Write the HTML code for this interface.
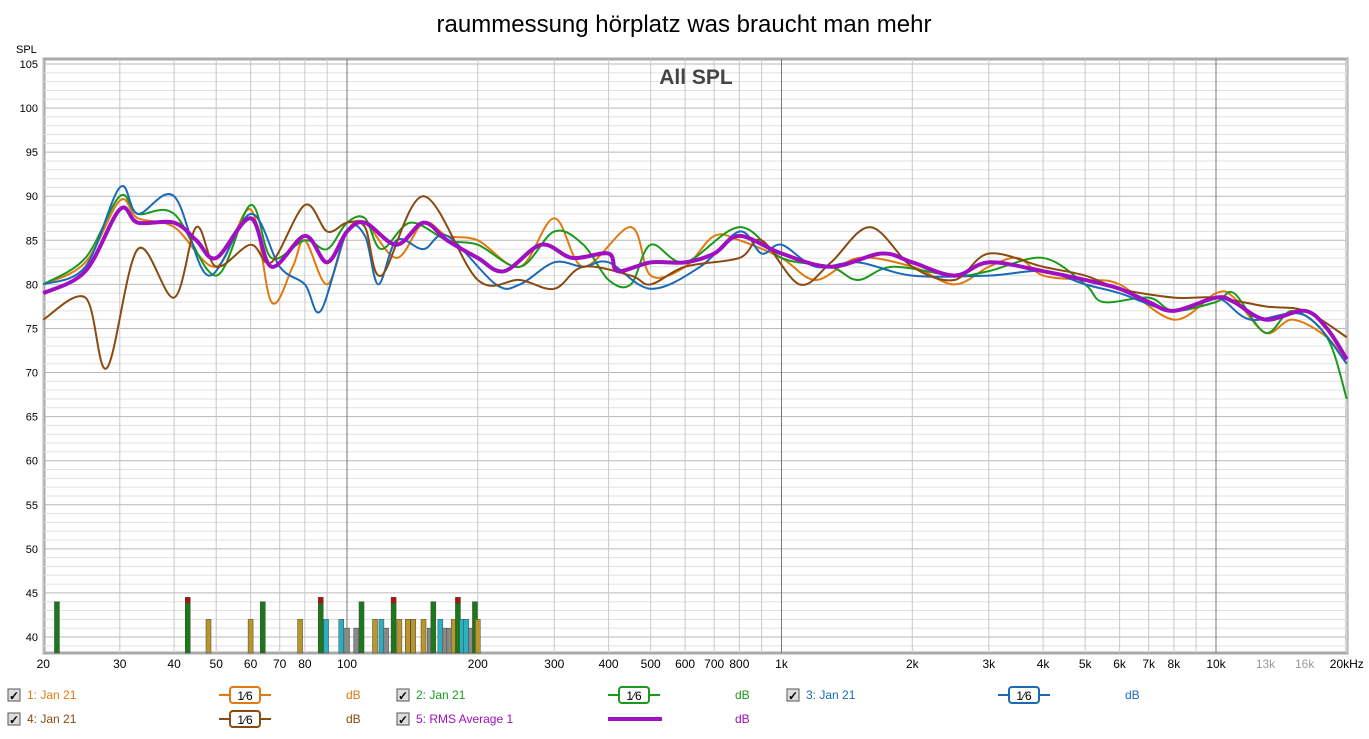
<!DOCTYPE html>
<html><head><meta charset="utf-8"><style>
body{margin:0;background:#fff;width:1369px;height:734px;overflow:hidden;font-family:"Liberation Sans",sans-serif}
</style></head><body>
<svg id="s" width="1369" height="734" xmlns="http://www.w3.org/2000/svg" font-family="Liberation Sans, sans-serif"></svg>
<script>
const s=document.getElementById('s');let h='';
const L=44,R=1347,T=59,B=653;
const X=f=>347+434.5*Math.log10(f/100);
const Y=d=>64+(105-d)*(573/65);
h+=`<text x="684" y="32" font-size="24" text-anchor="middle" fill="#000">raummessung hörplatz was braucht man mehr</text>`;
h+=`<text x="16" y="53" font-size="11">SPL</text>`;
h+=`<rect x="${L}" y="${T}" width="${R-L}" height="${B-T}" fill="#fff" stroke="#aaa" stroke-width="3"/>`;
for(let d=38;d<=105;d++){const y=Y(d);if(y<T||y>B)continue;h+=`<line x1="${L}" x2="${R}" y1="${y}" y2="${y}" stroke="${d%5?'#e0e0e0':'#b8b8b8'}"/>`;if(d%5==0)h+=`<text x="38" y="${y+4}" font-size="11" text-anchor="end">${d}</text>`;}
const fs=[];for(let dec=10;dec<=10000;dec*=10)for(let m=1;m<10;m++){const f=dec*m;if(f>=20&&f<=20000)fs.push(f);}
fs.forEach(f=>{const x=X(f);const maj=(f==100||f==1000||f==10000);h+=`<line x1="${x}" x2="${x}" y1="${T}" y2="${B}" stroke="${maj?'#777':(f>=10000?'#e4e4e4':'#c8c8c8')}"/>`;});
const ticks=[[20,'20'],[30,'30'],[40,'40'],[50,'50'],[60,'60'],[70,'70'],[80,'80'],[100,'100'],[200,'200'],[300,'300'],[400,'400'],[500,'500'],[600,'600'],[700,'700'],[800,'800'],[1000,'1k'],[2000,'2k'],[3000,'3k'],[4000,'4k'],[5000,'5k'],[6000,'6k'],[7000,'7k'],[8000,'8k'],[10000,'10k'],[13000,'13k'],[16000,'16k'],[20000,'20kHz']];
ticks.forEach(([f,t])=>{h+=`<text x="${X(f)}" y="668" font-size="12" text-anchor="middle" fill="${f==13000||f==16000?'#999':'#000'}">${t}</text>`;});
h+=`<text x="696" y="84" font-size="21" font-weight="bold" text-anchor="middle" fill="#444">All SPL</text>`;
const bars=[[21.5,44,'#1a7a1a'],[43,44.5,'#1a7a1a'],[48,42,'#b8962a'],[60,42,'#b8962a'],[64,44,'#1a7a1a'],[78,42,'#b8962a'],[87,44.5,'#1a7a1a'],[89.5,42,'#2ab0c0'],[97,42,'#2ab0c0'],[100,41,'#888'],[105,41,'#888'],[108,44,'#1a7a1a'],[116,42,'#b8962a'],[120,42,'#2ab0c0'],[123,41,'#888'],[128,44.5,'#1a7a1a'],[132,42,'#b8962a'],[138,42,'#b8962a'],[142,42,'#b8962a'],[150,42,'#b8962a'],[155,41,'#888'],[158,44,'#1a7a1a'],[164,42,'#2ab0c0'],[168,41,'#888'],[172,41,'#888'],[176,42,'#b8962a'],[180,44.5,'#1a7a1a'],[184,42,'#2ab0c0'],[188,42,'#2ab0c0'],[193,41,'#888'],[197,44,'#1a7a1a'],[200,42,'#b8962a']];
bars.forEach(([f,d,c])=>{const x=X(f);h+=`<rect x="${x-2.5}" y="${Y(d)}" width="5" height="${B-Y(d)}" fill="${c}" stroke="#444" stroke-width="0.5"/>`;if(d==44.5)h+=`<rect x="${x-2.5}" y="${Y(44.5)}" width="5" height="6" fill="#a01818"/>`;});
function curve(pts,c,w){const P=pts.map(([f,d])=>[X(f),Y(d)]);let p=`M${P[0][0]},${P[0][1]}`;for(let i=0;i<P.length-1;i++){const p0=P[i-1]||P[i],p1=P[i],p2=P[i+1],p3=P[i+2]||p2;p+=` C${p1[0]+(p2[0]-p0[0])/6},${p1[1]+(p2[1]-p0[1])/6} ${p2[0]-(p3[0]-p1[0])/6},${p2[1]-(p3[1]-p1[1])/6} ${p2[0]},${p2[1]}`;}h+=`<path d="${p}" fill="none" stroke="${c}" stroke-width="${w}" stroke-linejoin="round"/>`;}
curve([[20,80],[25,82.5],[30,89.5],[33,87.5],[40,86.5],[50,82],[60,88.5],[67,78],[75,82],[80,85],[90,80],[100,86],[110,87],[130,83],[150,87],[170,85.5],[200,85],[250,82],[300,87.5],[350,82],[450,86.5],[500,81],[600,82],[700,85.5],[800,85],[1000,83],[1200,80.5],[1500,83],[2000,82],[2500,80],[3000,82],[3500,83],[4000,81],[5000,80.5],[6000,80],[8000,76],[10000,79],[11000,78.5],[13000,74.5],[15000,76],[18000,74],[20000,71]],'#e07a10',2);
curve([[20,80],[25,83],[30,90],[33,88],[40,88],[50,81],[60,89],[67,83],[80,85],[90,84],[100,87],[110,87.5],[120,84],[140,87],[170,85],[200,84.5],[250,82],[300,86],[350,84.5],[400,80.5],[450,80],[500,84.5],[600,82.5],[800,86.5],[1000,83],[1300,82],[1500,80.5],[1800,82],[2500,81],[3000,81.5],[4000,83],[5000,80],[5500,78],[7000,78.5],[8000,77],[10000,78],[11000,79],[13000,74.5],[15000,77],[18000,74],[20000,67]],'#1a9a1a',2);
curve([[20,80],[25,82],[30,91],[33,88],[40,90],[48,81],[60,88],[70,82],[80,80],[87,77],[100,86],[110,85.5],[118,80],[130,85],[150,84],[170,85.5],[220,80],[250,80],[300,82.5],[350,82],[400,82.5],[500,79.5],[650,82],[800,86],[900,83.5],[1000,84.5],[1200,82],[1500,82.5],[2000,81],[3000,81],[4000,81.5],[5000,80],[6000,79],[8000,77],[10000,78.5],[12000,76],[16000,76.5],[20000,71]],'#1a6ab8',2);
curve([[20,76],[25,78.5],[28,70.5],[33,84],[40,78.5],[45,86.5],[50,82],[60,84.5],[67,82.5],[80,89],[90,86],[100,87],[110,86.5],[120,81],[150,90],[200,80.5],[250,80.5],[300,79.5],[350,82],[450,81],[500,80],[600,82],[800,83],[900,85],[1100,80],[1300,82.5],[1600,86.5],[2000,82],[2500,80.5],[3000,83.5],[4000,82],[5000,81],[6000,79.5],[8000,78.5],[10000,78.5],[13000,77.5],[16000,77],[20000,74]],'#8a4a10',2);
curve([[20,79],[25,81.5],[30,88.5],[33,87],[40,87],[45,85],[50,83],[60,87.5],[67,82],[80,85.5],[90,82.5],[100,86],[110,87],[130,84.5],[150,87],[170,85],[200,83],[230,81.5],[280,84.5],[330,83],[400,83.5],[420,81.5],[500,82.5],[600,82.5],[700,83.5],[800,85.5],[1000,83.5],[1300,82],[1700,83.5],[2000,82.5],[2500,81],[3000,82.5],[4000,81.5],[5000,80.5],[6000,79.5],[7000,78],[8000,77],[10000,78.5],[11000,78],[13000,76],[16000,77],[18000,75],[20000,71.5]],'#a010c0',4);
function cb(x,y){return `<rect x="${x}" y="${y}" width="12" height="12" fill="#ddd" stroke="#555"/><text x="${x+1}" y="${y+11}" font-size="12" font-weight="bold">✓</text>`;}
function leg(x,y,label,c){h+=cb(x,y-10);h+=`<text x="${x+19}" y="${y}" font-size="12" fill="${c}">${label}</text>`;}
function flt(x,y,c){h+=`<line x1="${x}" x2="${x+52}" y1="${y-4}" y2="${y-4}" stroke="${c}" stroke-width="2"/><rect x="${x+11}" y="${y-12}" width="30" height="16" rx="3" fill="#fff" stroke="${c}" stroke-width="2"/><text x="${x+26}" y="${y+1}" font-size="12" text-anchor="middle">1⁄6</text>`;}
leg(8,699,'1: Jan 21','#e07a10');flt(219,699,'#e07a10');h+=`<text x="346" y="699" font-size="12" fill="#e07a10">dB</text>`;
leg(397,699,'2: Jan 21','#1a9a1a');flt(608,699,'#1a9a1a');h+=`<text x="735" y="699" font-size="12" fill="#1a9a1a">dB</text>`;
leg(787,699,'3: Jan 21','#1a6ab8');flt(998,699,'#1a6ab8');h+=`<text x="1125" y="699" font-size="12" fill="#1a6ab8">dB</text>`;
leg(8,723,'4: Jan 21','#8a4a10');flt(219,723,'#8a4a10');h+=`<text x="346" y="723" font-size="12" fill="#8a4a10">dB</text>`;
leg(397,723,'5: RMS Average 1','#a010c0');h+=`<line x1="608" x2="662" y1="719" y2="719" stroke="#a010c0" stroke-width="4"/><text x="735" y="723" font-size="12" fill="#a010c0">dB</text>`;
s.innerHTML=h;
</script>
</body></html>
